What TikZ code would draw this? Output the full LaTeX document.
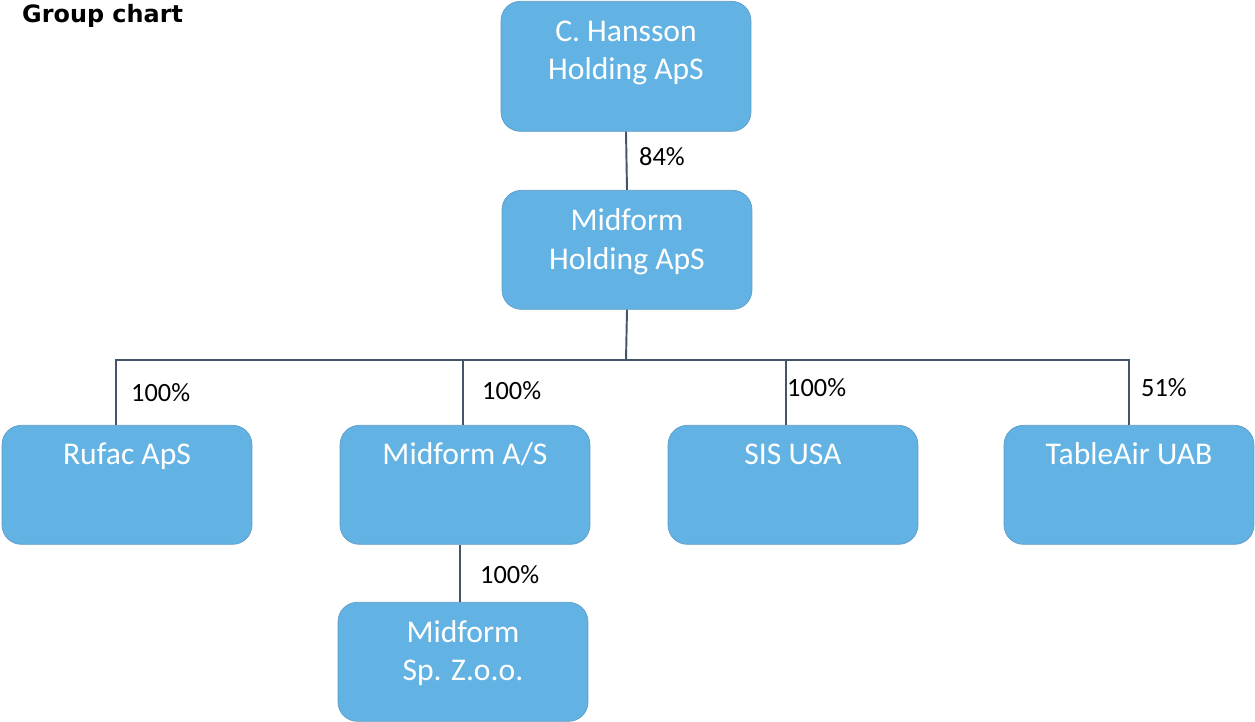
\documentclass[tikz,border=0pt]{standalone}
\usepackage{fontspec}
\setmainfont{Carlito}
\newfontfamily\headfont{DejaVu Sans}
\usepackage{tikz}
\usetikzlibrary{positioning}

\definecolor{boxblue}{HTML}{62B3E3}
\definecolor{boxedge}{HTML}{5F9CC6}
\definecolor{linkgray}{HTML}{44546A}

\tikzset{
  company/.style={draw=boxedge, fill=boxblue, rounded corners=11pt, minimum width=5cm, minimum height=2.38cm,
    text=white, align=center, anchor=north, font=\fontsize{18}{22}\selectfont, text height=0.42cm},
  twoline/.style={text height=1.2cm},
  share/.style={anchor=west, font=\fontsize{15}{17}\selectfont},
  link/.style={draw=linkgray, line width=1.1pt}
}

\begin{document}
\begin{tikzpicture}[x=0.02cm, y=-0.02cm]
\useasboundingbox (0,0) rectangle (1255,722);
\node [anchor=west, font=\headfont\bfseries\fontsize{13.6}{15}\selectfont] (title) at (16,16) {Group chart};

% boxes
\node [company, twoline, minimum height=2.6cm, text depth=0.66cm] (hansson) at (626,1) {C. Hansson\\Holding ApS};
\node [company, twoline, text depth=0.42cm] (holding) at (627,190) {Midform\\Holding ApS};
\node [company, text depth=1.22cm] (rufac) at (127,425) {Rufac ApS};
\node [company, text depth=1.22cm] (midform) at (465,425) {Midform A/S};
\node [company, text depth=1.22cm] (sis) at (793,425) {SIS USA};
\node [company, text depth=1.22cm] (tableair) at (1129,425) {TableAir UAB};
\node [company, twoline, text depth=0.44cm] (poland) at (463,602) {Midform\\Sp. Z.o.o.};

% lines
\coordinate (bus) at (626,360);
\draw [link] (hansson.south) -- (holding.north); \node [share] at (633,157) {84\%};
\draw [link] (holding.south) -- (bus);
\draw [link] ([xshift=-11*0.02cm]rufac.north) |- (bus); \node [share] at (125,393) {100\%};
\draw [link] ([xshift=-2*0.02cm]midform.north) |- (bus); \node [share] at (476,391) {100\%};
\draw [link] ([xshift=-7*0.02cm]sis.north) |- (bus); \node [share] at (781,388) {100\%};
\draw [link] (tableair.north) |- (bus); \node [share] at (1135,388) {51\%};
\draw [link] ([xshift=-5*0.02cm]midform.south) -- ([xshift=-3*0.02cm]poland.north); \node [share] at (474,575) {100\%};

\end{tikzpicture}
\end{document}
